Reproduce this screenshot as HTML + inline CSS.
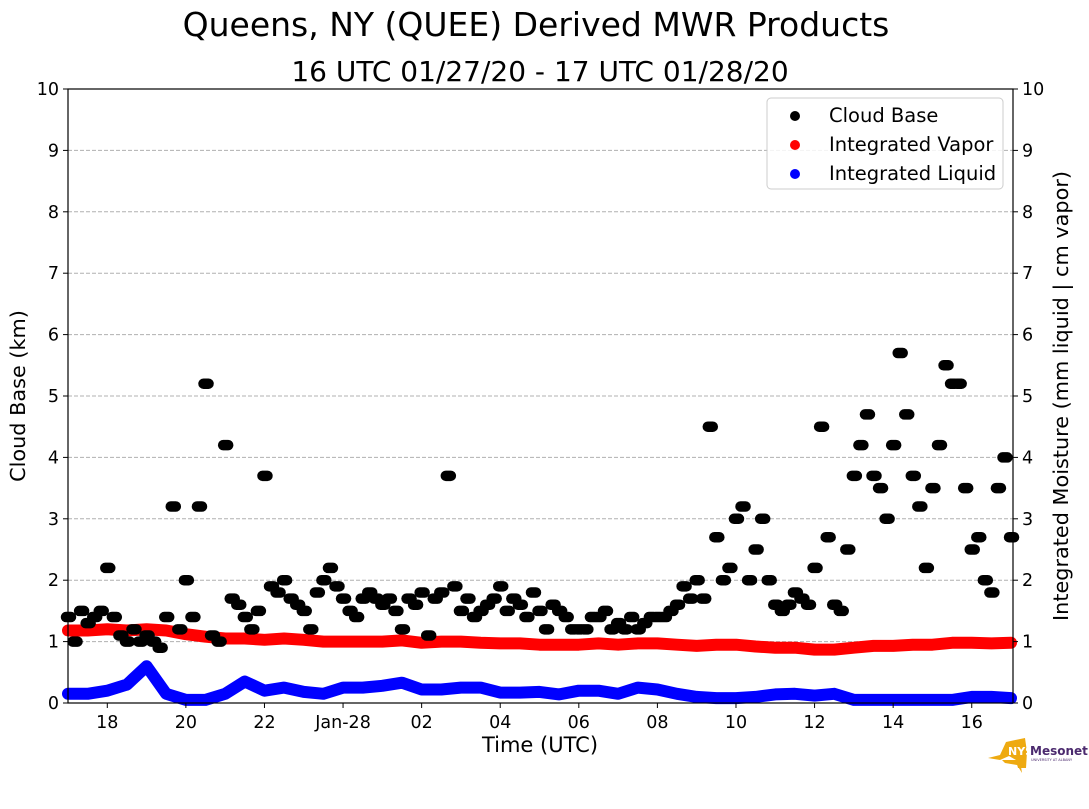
<!DOCTYPE html>
<html><head><meta charset="utf-8"><style>
body{margin:0;background:#fff;width:1089px;height:804px;overflow:hidden}
svg text{font-family:"DejaVu Sans","Liberation Sans",sans-serif;fill:#000}
</style></head><body>
<svg id="chart" width="1089" height="804">
<text x="536" y="36" font-size="33" text-anchor="middle">Queens, NY (QUEE) Derived MWR Products</text>
<text x="540" y="81" font-size="28" text-anchor="middle">16 UTC 01/27/20 - 17 UTC 01/28/20</text>
<g id="grid"></g>
<g id="marks"></g>
<rect x="68" y="89" width="945" height="614" fill="none" stroke="#000" stroke-width="1.2"/>
<g id="axes"></g>
<text transform="translate(25,396) rotate(-90)" font-size="20.8" text-anchor="middle">Cloud Base (km)</text>
<text transform="translate(1068,396) rotate(-90)" font-size="20.8" text-anchor="middle">Integrated Moisture (mm liquid | cm vapor)</text>
<text x="540" y="752" font-size="21" text-anchor="middle">Time (UTC)</text>
<g>
<rect x="767" y="98" width="236" height="91" rx="4" fill="#fff" fill-opacity="0.85" stroke="#ccc"/>
<circle cx="795" cy="116" r="5" fill="#000"/><text x="829" y="122" font-size="19.5">Cloud Base</text>
<circle cx="795" cy="145" r="5" fill="red"/><text x="829" y="151" font-size="19.5">Integrated Vapor</text>
<circle cx="795" cy="174" r="5" fill="blue"/><text x="829" y="180" font-size="19.5">Integrated Liquid</text>
</g>
<g>
<path d="M988 758 L1000 755 L1006 742 L1025 738 L1027 752 L1026 768 L1018 768 L1016 760 L1009 756 L1000 760 Z M1002 760 L1020 760 L1022 773 L1017 765 L1005 763 Z" fill="#eeaa11"/>
<text x="1008" y="755" font-size="11" font-weight="bold" style="fill:#fff">NYS</text>
<text x="1030" y="755" font-size="12" font-weight="bold" style="fill:#4b2a6e">Mesonet</text>
<text x="1031" y="761" font-size="3.5" style="fill:#4b2a6e">UNIVERSITY AT ALBANY</text>
</g>
</svg>
<script>
const cloudStartHour = 0; // hours after 17 UTC, 10-min spacing
const cloudBase = [
1.4,1.0,1.5,1.3,1.4,1.5, 2.2,1.4,1.1,1.0,1.2,1.0, 1.1,1.0,0.9,1.4,3.2,1.2,
2.0,1.4,3.2,5.2,1.1,1.0, 4.2,1.7,1.6,1.4,1.2,1.5, 3.7,1.9,1.8,2.0,1.7,1.6,
1.5,1.2,1.8,2.0,2.2,1.9, 1.7,1.5,1.4,1.7,1.8,1.7, 1.6,1.7,1.5,1.2,1.7,1.6,
1.8,1.1,1.7,1.8,3.7,1.9, 1.5,1.7,1.4,1.5,1.6,1.7, 1.9,1.5,1.7,1.6,1.4,1.8,
1.5,1.2,1.6,1.5,1.4,1.2, 1.2,1.2,1.4,1.4,1.5,1.2, 1.3,1.2,1.4,1.2,1.3,1.4,
1.4,1.4,1.5,1.6,1.9,1.7, 2.0,1.7,4.5,2.7,2.0,2.2, 3.0,3.2,2.0,2.5,3.0,2.0,
1.6,1.5,1.6,1.8,1.7,1.6, 2.2,4.5,2.7,1.6,1.5,2.5, 3.7,4.2,4.7,3.7,3.5,3.0,
4.2,5.7,4.7,3.7,3.2,2.2, 3.5,4.2,5.5,5.2,5.2,3.5, 2.5,2.7,2.0,1.8,3.5,4.0, 2.7];
const vapor = [1.18,1.18,1.2,1.18,1.2,1.18,1.12,1.08,1.05,1.05,1.03,1.05,1.03,1.0,1.0,1.0,1.0,1.02,0.98,1.0,1.0,0.98,0.97,0.97,0.95,0.95,0.95,0.97,0.95,0.97,0.97,0.95,0.93,0.95,0.95,0.92,0.9,0.9,0.87,0.87,0.9,0.93,0.93,0.95,0.95,0.98,0.98,0.97,0.98];
const liquid = [0.15,0.15,0.2,0.3,0.6,0.15,0.05,0.05,0.15,0.35,0.2,0.25,0.18,0.15,0.25,0.25,0.28,0.33,0.22,0.22,0.25,0.25,0.17,0.17,0.18,0.14,0.2,0.2,0.15,0.25,0.22,0.15,0.1,0.08,0.08,0.1,0.14,0.15,0.12,0.15,0.05,0.05,0.05,0.05,0.05,0.05,0.1,0.1,0.08];
const xTickHours = [1,3,5,7,9,11,13,15,17,19,21,23];
const xTickLabels = ["18","20","22","Jan-28","02","04","06","08","10","12","14","16"];
const yTicks = [0,1,2,3,4,5,6,7,8,9,10];

const NS="http://www.w3.org/2000/svg";
const X0=68,X1=1013,Y0=703,Y1=89,HMAX=24.05,YMAX=10;
const xs=h=>X0+(X1-X0)*h/HMAX;
const ys=v=>Y0-(Y0-Y1)*v/YMAX;
function mk(tag,attrs,parent){const e=document.createElementNS(NS,tag);for(const k in attrs)e.setAttribute(k,attrs[k]);parent.appendChild(e);return e;}
const grid=document.getElementById('grid'),marks=document.getElementById('marks'),axes=document.getElementById('axes');

yTicks.forEach(v=>{
  if(v>0&&v<10){const l=mk('line',{x1:X0,x2:X1,y1:ys(v),y2:ys(v),stroke:'#b0b0b0','stroke-dasharray':'4,2'},grid);
  
  }
  mk('line',{x1:X0-5,x2:X0,y1:ys(v),y2:ys(v),stroke:'#000'},axes);
  mk('line',{x1:X1,x2:X1+5,y1:ys(v),y2:ys(v),stroke:'#000'},axes);
  const t=mk('text',{x:X0-9,y:ys(v)+6,'font-size':17.5,'text-anchor':'end'},axes);t.textContent=v;
  
  
  const t2=mk('text',{x:X1+9,y:ys(v)+6,'font-size':17.5},axes);t2.textContent=v;
  
  
});
xTickHours.forEach((h,i)=>{
  mk('line',{x1:xs(h),x2:xs(h),y1:Y0,y2:Y0+5,stroke:'#000'},axes);
  const t=mk('text',{x:xs(h),y:Y0+25,'font-size':17.5,'text-anchor':'middle'},axes);t.textContent=xTickLabels[i];
  
  
});

function series(vals,step,color,name){
  const g=mk('g',{},marks);
  
  
  const pts=vals.map((v,i)=>xs(i*step).toFixed(1)+','+ys(v).toFixed(1)).join(' ');
  mk('polyline',{points:pts,fill:'none',stroke:color,'stroke-width':12,'stroke-linejoin':'round','stroke-linecap':'round'},g);
}
series(vapor,0.5,'red','vapor-series');
series(liquid,0.5,'blue','liquid-series');
const cg=mk('g',{},marks);


cloudBase.forEach((v,i)=>{const x=xs(cloudStartHour+i/6);
  const c=mk('line',{x1:x-2,x2:x+3,y1:ys(v),y2:ys(v),stroke:'#000','stroke-width':10.5,'stroke-linecap':'round'},cg);
  
  });
</script>
</body></html>
